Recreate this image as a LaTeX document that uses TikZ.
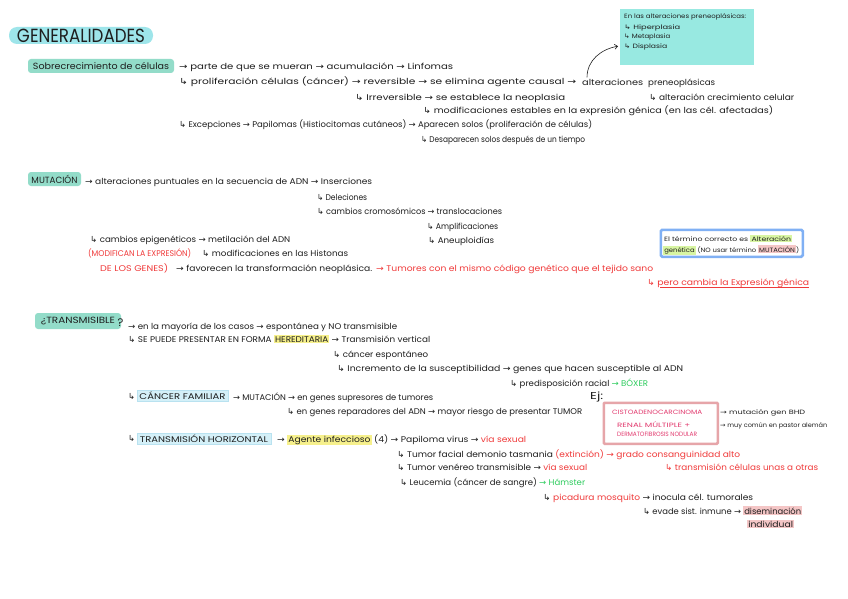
\documentclass[tikz,border=0pt]{standalone}
\usepackage{fontspec}
\usepackage{graphicx}
\setmainfont{Poppins}
\newfontfamily\dv{DejaVu Sans}
\usetikzlibrary{arrows.meta}
\definecolor{ink}{HTML}{1E1E1E}
\definecolor{ttlc}{HTML}{9EE5EA}
\definecolor{secc}{HTML}{93DCC9}
\definecolor{notec}{HTML}{98E9E1}
\definecolor{rd}{HTML}{F03A3A}
\definecolor{gr}{HTML}{2ECC5E}
\definecolor{yl}{HTML}{F6F08C}
\definecolor{lb}{HTML}{D4F0F8}
\definecolor{lbb}{HTML}{B9E2F0}
\definecolor{pk}{HTML}{F4C6C6}
\definecolor{lg}{HTML}{D8F5A2}
\definecolor{bbc}{HTML}{80B0F4}
\definecolor{pkb}{HTML}{E6A5A9}
\definecolor{mg}{HTML}{E23A6E}
\newcommand\ra{{\dv →}}
\newcommand\hk{{\dv ↳}}
\newcommand\W[2]{\resizebox{#1pt}{\height}{#2}}
\newcommand\hl[2]{{\setlength{\fboxsep}{1pt}\colorbox{#1}{#2}}}
\begin{document}
\begin{tikzpicture}[x=1pt,y=-1pt,
  tx/.style={anchor=base west,inner sep=0pt,text=ink,font=\fontsize{8.3}{10}\selectfont},
  sm/.style={tx,font=\fontsize{6.2}{8}\selectfont},
  rtx/.style={tx,text=rd},
  secbox/.style={fill=secc,rounded corners=3pt,inner sep=0pt,text=ink,font=\fontsize{9}{10}\selectfont},
  hlbox/.style={fill=lb,draw=lbb,line width=0.4pt,inner sep=0pt,text=ink,font=\fontsize{8.3}{10}\selectfont},
  conn/.style={ink,line width=0.6pt,-{Straight Barb[length=3pt,width=5pt]}}]
\useasboundingbox (0,0) rectangle (848,599);
\fill[white] (0,0) rectangle (848,599);

% ---------- GENERALIDADES ----------
\node[fill=ttlc,rounded corners=8pt,minimum width=144pt,minimum height=17pt,inner sep=0pt,text=ink,font=\fontsize{19}{19}\selectfont] (title) at (81,35.5) {\W{128}{GENERALIDADES}};

\node[secbox,minimum width=146pt,minimum height=14pt] (sob) at (101,66) {\W{136}{Sobrecrecimiento de células}};
\node[tx] (r1) at (179,70) {\W{274}{\ra{} parte de que se mueran \ra{} acumulación \ra{} Linfomas}};
\node[tx] (r2) at (179,85) {\W{397}{\hk{} proliferación células (cáncer) \ra{} reversible \ra{} se elimina agente causal \ra}};
\node[tx] (alt) at (582,85) {\W{61}{alteraciones}};
\node[tx] (pre) at (648,85) {\W{67}{preneoplásicas}};
\node[tx] (r3a) at (355,100) {\W{210}{\hk{} Irreversible \ra{} se establece la neoplasia}};
\node[tx] (r3b) at (649,100) {\W{145}{\hk{} alteración crecimiento celular}};
\node[tx] (r4) at (423,114) {\W{350}{\hk{} modificaciones estables en la expresión génica (en las cél. afectadas)}};
\node[tx] (r5) at (179,128) {\W{413}{\hk{} Excepciones \ra{} Papilomas (Histiocitomas cutáneos) \ra{} Aparecen solos (proliferación de células)}};
\node[tx] (r6) at (421,142) {\W{164}{\hk{} Desaparecen solos después de un tiempo}};

\node[fill=notec,minimum width=134pt,minimum height=56pt,inner sep=0pt,anchor=north west] (nb) at (620,9) {};
\node[sm] (n0) at (624,18.5) {\W{122}{En las alteraciones preneoplásicas:}};
\node[sm] (n1) at (624,29.5) {\W{56}{\hk{} Hiperplasia}};
\node[sm] (n2) at (624,38.5) {\W{46}{\hk{} Metaplasia}};
\node[sm] (n3) at (624,49) {\W{43}{\hk{} Displasia}};
\coordinate (nbin) at ([xshift=-2pt,yshift=-9pt]nb.west);
\draw[conn] ([xshift=5pt,yshift=1pt]alt.north west) to[out=90,in=190] (nbin);

% ---------- MUTACION ----------
\node[secbox,minimum width=53pt,minimum height=14pt] (mut) at (54.5,179) {\W{46}{MUTACIÓN}};
\node[tx] (m1) at (85,184) {\W{287}{\ra{} alteraciones puntuales en la secuencia de ADN \ra{} Inserciones}};
\node[tx] (m2) at (317,200) {\W{50}{\hk{} Deleciones}};
\node[tx] (m3) at (317,214) {\W{185}{\hk{} cambios cromosómicos \ra{} translocaciones}};
\node[tx] (m4) at (427,229) {\W{71}{\hk{} Amplificaciones}};
\node[tx] (m5) at (428,243) {\W{66}{\hk{} Aneuploidías}};
\node[tx] (m6) at (90,242) {\W{200}{\hk{} cambios epigenéticos \ra{} metilación del ADN}};
\node[rtx] (m7a) at (88,256) {\W{103}{(MODIFICAN LA EXPRESIÓN)}};
\node[tx] (m7b) at (202,256) {\W{146}{\hk{} modificaciones en las Histonas}};
\node[rtx] (m8a) at (100,271) {\W{68}{DE LOS GENES)}};
\node[tx] (m8b) at (176,271) {\W{196}{\ra{} favorecen la transformación neoplásica.}};
\node[rtx] (m8c) at (376,271) {\W{277}{\ra{} Tumores con el mismo código genético que el tejido sano}};
\node[rtx] (m9) at (647,285.5) {\W{162}{\hk{} pero cambia la Expresión génica}};
\draw[rd,line width=0.6pt] ([xshift=13pt,yshift=-2pt]m9.base west) -- ([yshift=-2pt]m9.base east);

\node[draw=bbc,line width=2.5pt,fill=white,rounded corners=1.5pt,minimum width=142pt,minimum height=27pt,inner sep=0pt,anchor=north west] (blue) at (659.5,228.5) {};
\node[sm] (b1) at (664,241) {\W{128}{El término correcto es \hl{lg}{Alteración}}};
\node[sm] (b2) at (663,252) {\W{136}{\hl{lg}{genética} (NO usar término \hl{pk}{MUTACIÓN})}};

% ---------- TRANSMISIBLE ----------
\node[secbox,minimum width=86pt,minimum height=16pt] (tra) at (78,321) {\W{74}{¿TRANSMISIBLE}};
\node[tx,font=\fontsize{11}{12}\selectfont] (q) at (117.5,326) {?};
\node[tx] (t1) at (128,329) {\W{269}{\ra{} en la mayoría de los casos \ra{} espontánea y NO transmisible}};
\node[tx] (t2) at (128,342) {\W{302}{\hk{} SE PUEDE PRESENTAR EN FORMA \hl{yl}{HEREDITARIA} \ra{} Transmisión vertical}};
\node[tx] (t3) at (333,357) {\W{95}{\hk{} cáncer espontáneo}};
\node[tx] (t4) at (337,371) {\W{346}{\hk{} Incremento de la susceptibilidad \ra{} genes que hacen susceptible al ADN}};
\node[tx] (t5) at (510,386) {\W{138}{\hk{} predisposición racial {\color{gr}\ra{} BÓXER}}};
\node[tx] (t6h) at (128,399.5) {\hk};
\node[hlbox,minimum width=91pt,minimum height=11pt] (cf) at (182.5,396) {\W{86}{CÁNCER FAMILIAR}};
\node[tx] (t6) at (233,400) {\W{200}{\ra{} MUTACIÓN \ra{} en genes supresores de tumores}};
\node[tx] (t7) at (287,414) {\W{295}{\hk{} en genes reparadores del ADN \ra{} mayor riesgo de presentar TUMOR}};
\node[tx,font=\fontsize{10}{12}\selectfont] (ej) at (590,399) {\W{13}{Ej:}};

\node[draw=pkb,line width=2.5pt,rounded corners=1pt,minimum width=114pt,minimum height=41pt,inner sep=0pt,anchor=north west] (pbox) at (602.5,401.5) {};
\node[sm,text=mg] (p1) at (612,414) {\W{90}{CISTOADENOCARCINOMA}};
\node[sm,text=mg] (p2) at (617,427) {\W{73}{RENAL MÚLTIPLE +}};
\node[sm,text=mg] (p3) at (617,436.5) {\W{80}{DERMATOFIBROSIS NODULAR}};
\node[sm] (e1) at (720,414) {\W{85}{\ra{} mutación gen BHD}};
\node[sm] (e2) at (720,427) {\W{107}{\ra{} muy común en pastor alemán}};

\node[tx] (t8h) at (128,441.5) {\hk};
\node[hlbox,minimum width=134pt,minimum height=11pt] (th) at (204,438.5) {\W{128}{TRANSMISIÓN HORIZONTAL}};
\node[tx] (t8) at (277,442) {\W{249}{\ra{} \hl{yl}{Agente infeccioso} (4) \ra{} Papiloma virus \ra{} {\color{rd}vía sexual}}};
\node[tx] (t9) at (397,457) {\W{343}{\hk{} Tumor facial demonio tasmania {\color{rd}(extinción) \ra{} grado consanguinidad alto}}};
\node[tx] (t10a) at (397,470) {\W{190}{\hk{} Tumor venéreo transmisible \ra{} {\color{rd}vía sexual}}};
\node[rtx] (t10b) at (665,470) {\W{153}{\hk{} transmisión células unas a otras}};
\node[tx] (t11) at (400,485) {\W{185}{\hk{} Leucemia (cáncer de sangre) {\color{gr}\ra{} Hámster}}};
\node[tx] (t12) at (543,500) {\W{210}{\hk{} {\color{rd}picadura mosquito} \ra{} inocula cél. tumorales}};
\node[tx] (t13) at (643,514) {\W{159}{\hk{} evade sist. inmune \ra{} \hl{pk}{diseminación}}};
\node[tx] (t14) at (747,527) {\W{47}{\hl{pk}{individual}}};
\end{tikzpicture}
\end{document}
